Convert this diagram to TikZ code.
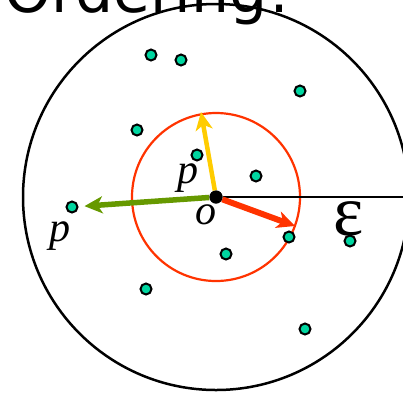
\documentclass[tikz,border=0pt]{standalone}
\usepackage{fontspec}
\setmainfont{Liberation Serif}
\newfontfamily\titlefont{DejaVu Sans}
\definecolor{ptteal}{RGB}{0,214,160}
\definecolor{epsred}{RGB}{255,51,0}
\definecolor{vecyellow}{RGB}{255,204,0}
\definecolor{vecgreen}{RGB}{102,153,0}
\usetikzlibrary{arrows.meta}
\tikzset{
  datapt/.style={circle, draw=black, fill=ptteal, line width=2pt, inner sep=0pt, minimum size=11pt},
  vec/.style={line width=5pt, -{Stealth[length=18pt, width=17pt, inset=5pt]}},
  lbl/.style={font=\fontsize{42}{42}\selectfont\itshape, inner sep=0pt}
}

\begin{document}
\begin{tikzpicture}[x=1pt, y=-1pt]
  \useasboundingbox (0,0) rectangle (403,392);

  % Title, cut by the frame
  \node[font=\titlefont\fontsize{60}{60}\selectfont, anchor=base east, inner sep=0pt] (title) at (292,12) {Ordering!};

  % eps-neighbourhood and the inner circle
  \draw[line width=2.5pt] (216,197) circle[radius=193];
  \draw[epsred, line width=2.2pt] (216,197) circle[radius=84];

  % Centre point
  \node[circle, fill=black, inner sep=0pt, minimum size=13pt] (o) at (216,197) {};
  \coordinate (rim) at (409,197);
  \coordinate (ytip) at (201,112);
  \coordinate (rtip) at (295,226);

  % Data points
  \foreach \i/\x/\y in {1/151/55, 2/181/60, 3/300/91, 4/137/130, 5/197/155, 6/256/176,
                        7/289/237, 8/226/254, 9/72/207, 10/350/241, 11/146/289, 12/305/329}
    \node[datapt] (d\i) at (\x,\y) {};

  % Radius and distance vectors
  \draw[line width=2.5pt] (o) -- (rim);
  \draw[vec, vecyellow, line width=4.5pt] (o) -- (ytip);
  \draw[vec, vecgreen, line width=5.5pt, shorten >=6pt] (o) -- (d9);
  \draw[vec, epsred, line width=6pt] (o) -- (rtip);
  \node[circle, fill=black, inner sep=0pt, minimum size=13pt] at (o) {};

  % Labels
  \node[lbl] (pin) at (188,178) {p};
  \node[lbl] (olbl) at (206,215) {o};
  \node[lbl] (pout) at (60,236) {p};
  \node[font=\fontsize{72}{72}\selectfont, inner sep=0pt] (eps) at (349,219) {ε};
\end{tikzpicture}
\end{document}
